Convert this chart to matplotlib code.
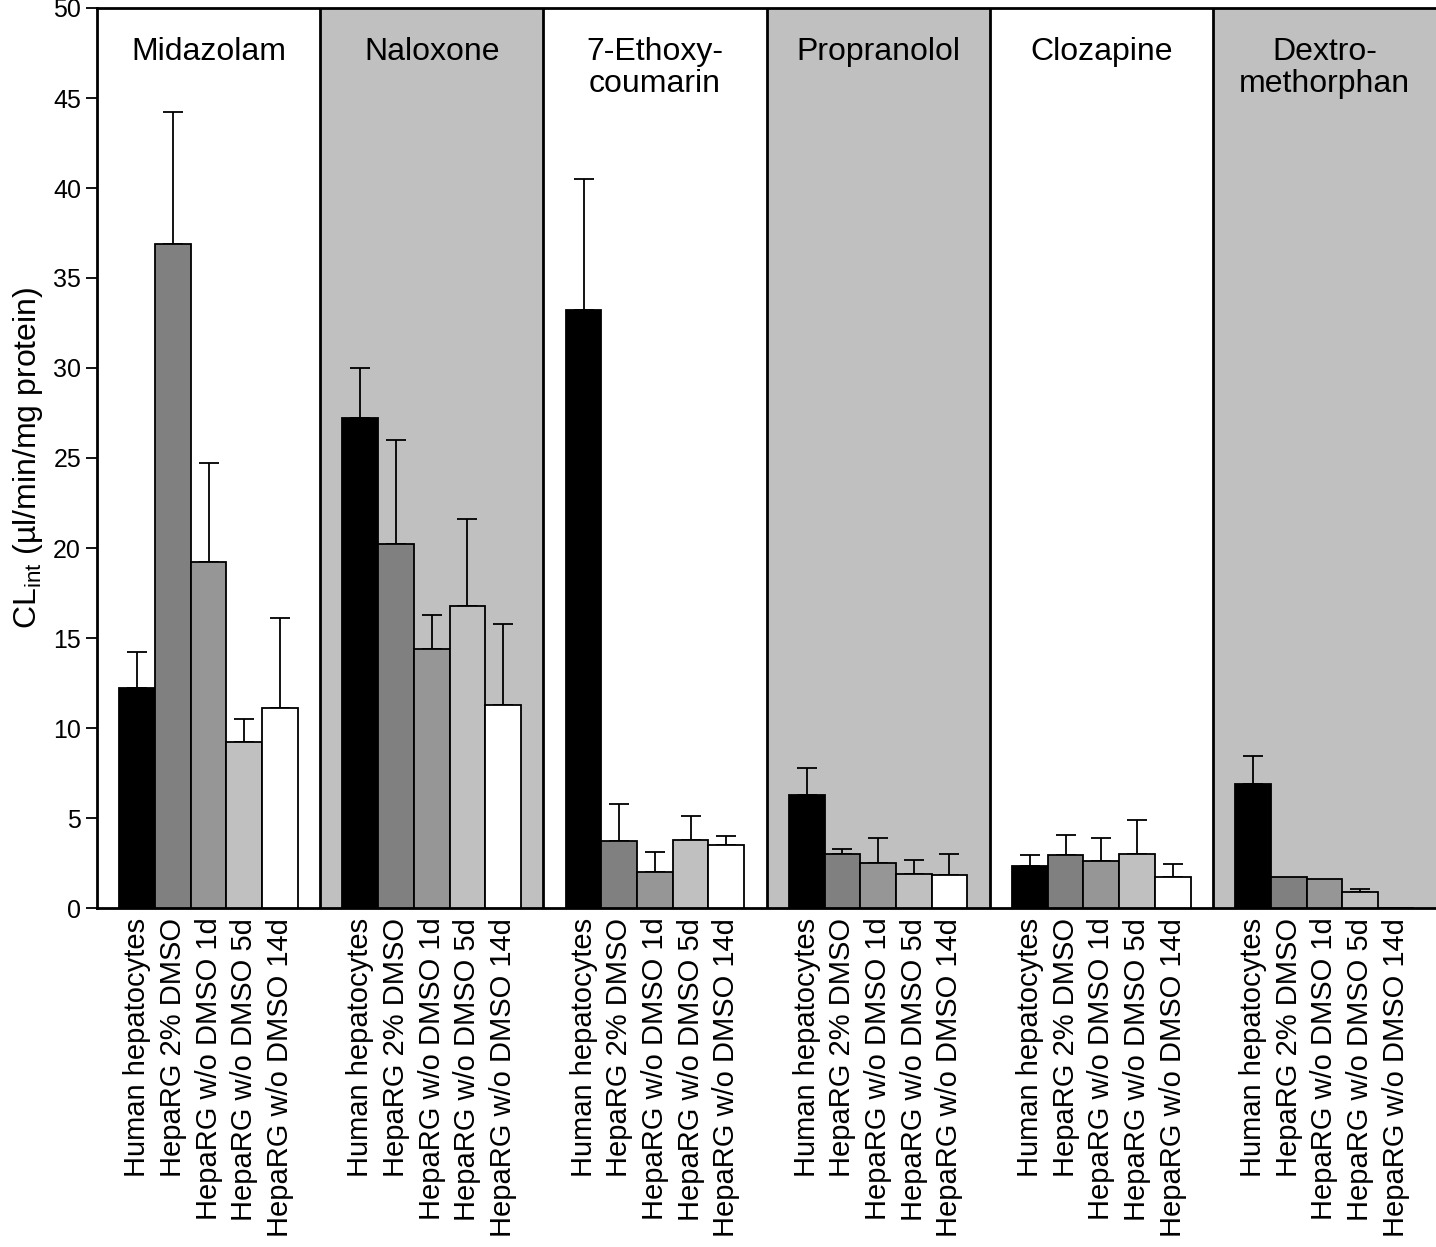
import numpy as np
import matplotlib
matplotlib.use("Agg")
import matplotlib.pyplot as plt

plt.rcParams['font.family'] = ['Liberation Sans', 'DejaVu Sans']

# drugs (panels) and cell systems (bars)
drugs = ["Midazolam", "Naloxone", "7-Ethoxy-\ncoumarin", "Propranolol",
         "Clozapine", "Dextro-\nmethorphan"]
systems = ["Human hepatocytes", "HepaRG 2% DMSO", "HepaRG w/o DMSO 1d",
           "HepaRG w/o DMSO 5d", "HepaRG w/o DMSO 14d"]
bar_colors = ["#000000", "#808080", "#969696", "#c0c0c0", "#ffffff"]
shaded = [False, True, False, True, False, True]

# CLint means, one list per cell system (order = drugs)
human_hep = [12.2, 27.2, 33.2, 6.3, 2.35, 6.87]
dmso_2pct = [36.9, 20.2, 3.7, 2.98, 2.92, 1.7]
wo_dmso_1d = [19.2, 14.4, 2.0, 2.48, 2.59, 1.61]
wo_dmso_5d = [9.2, 16.8, 3.8, 1.87, 2.98, 0.89]
wo_dmso_14d = [11.1, 11.3, 3.5, 1.81, 1.7, 0.0]

# upper SD
human_hep_sd = [2.0, 2.8, 7.3, 1.5, 0.57, 1.57]
dmso_2pct_sd = [7.3, 5.8, 2.1, 0.28, 1.14, 0.0]
wo_dmso_1d_sd = [5.5, 1.9, 1.1, 1.42, 1.31, 0.0]
wo_dmso_5d_sd = [1.3, 4.8, 1.3, 0.81, 1.89, 0.18]
wo_dmso_14d_sd = [5.0, 4.5, 0.5, 1.17, 0.76, 0.0]

means = [human_hep, dmso_2pct, wo_dmso_1d, wo_dmso_5d, wo_dmso_14d]
sds = [human_hep_sd, dmso_2pct_sd, wo_dmso_1d_sd, wo_dmso_5d_sd, wo_dmso_14d_sd]

fig = plt.figure(figsize=(14.36, 12.47), dpi=100)
ax = fig.add_axes([97 / 1436, 339 / 1247, (1436 - 97) / 1436, 900 / 1247])

n_drugs = len(drugs)
width = 0.16
x = np.arange(n_drugs)

# shaded panels and dividers
for i in range(n_drugs):
    if shaded[i]:
        ax.axvspan(i - 0.5, i + 0.5, color="#c0c0c0", zorder=0, lw=0)
    if i > 0:
        ax.axvline(i - 0.5, color="black", lw=2, zorder=1)

tick_pos = []
tick_lab = []
for j in range(len(systems)):
    pos = x - 0.4 + width * (j + 0.5)
    vals = np.array(means[j])
    err = np.array(sds[j])
    ax.bar(pos, vals, width, color=bar_colors[j], edgecolor="black",
           linewidth=1.3, zorder=3)
    mask = err > 0
    ax.errorbar(pos[mask], vals[mask], yerr=[np.zeros(mask.sum()), err[mask]],
                fmt="none", ecolor="black", elinewidth=1.3, capsize=7,
                capthick=1.3, zorder=2)
    tick_pos.extend(pos)
    tick_lab.extend([systems[j]] * n_drugs)

ax.set_xticks(tick_pos)
ax.set_xticklabels(tick_lab, rotation=90, fontsize=21)
ax.tick_params(axis="x", length=0, pad=7)

# panel titles
for i, name in enumerate(drugs):
    ax.text(i, 48.4, name, ha="center", va="top", fontsize=23,
            linespacing=1.1, zorder=4)

ax.set_xlim(-0.5, n_drugs - 0.5)
ax.set_ylim(0, 50)
ax.set_yticks(np.arange(0, 51, 5))
ax.tick_params(axis="y", labelsize=18, length=8, width=1.3, direction="out")
ax.set_ylabel(r"CL$_{\mathregular{int}}$ (µl/min/mg protein)", fontsize=23,
              labelpad=6)

for s in ["left", "bottom", "top"]:
    ax.spines[s].set_linewidth(2)
ax.spines["right"].set_visible(False)

fig.savefig("out.png", dpi=100)
